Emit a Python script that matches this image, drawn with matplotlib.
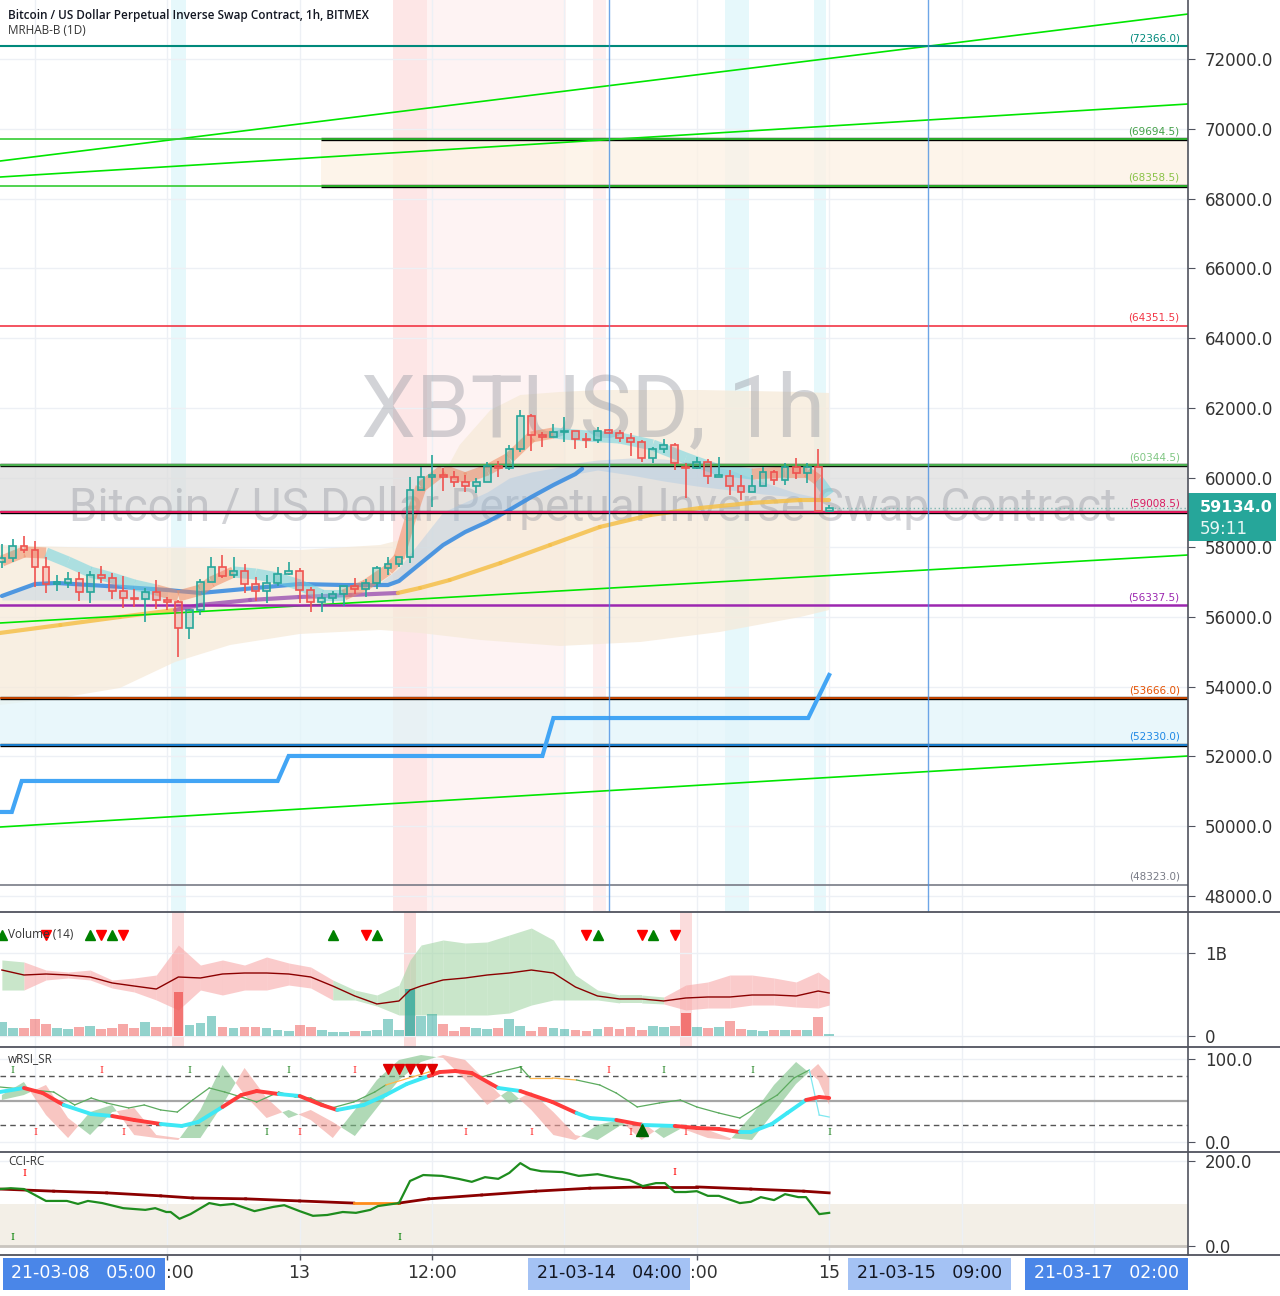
import matplotlib
matplotlib.use('Agg')
import matplotlib.pyplot as plt
from matplotlib.patches import Rectangle
from matplotlib.lines import Line2D

# hour index: 0 = 2021-03-12 00:00 (1h candles)
hours = list(range(-3, 73))
opens = [57577, 57692, 58036, 57921, 57434, 56946, 56975, 57090, 56717, 57204,
         57118, 56746, 56545, 56516, 56717, 56488, 56430, 55685, 56201, 57004,
         57434, 57204, 57319, 56946, 56746, 56975, 57233, 57319, 56774, 56430,
         56545, 56660, 56889, 56803, 56975, 57405, 57520, 57721, 59642, 60014,
         60072, 60014, 59871, 59756, 59871, 60330, 60273, 60817, 61764, 61219,
         61161, 61305, 61334, 61104, 61075, 61362, 61276, 61133, 61018, 60559,
         60817, 60932, 60301, 60273, 60445, 60014, 60043, 59756, 59584, 59756,
         60158, 59928, 60301, 60129, 60301, 59040]
highs = [58093, 58237, 58323, 58179, 57721, 57204, 57291, 57291, 57319, 57463,
         57262, 57176, 56803, 56832, 57061, 56574, 56488, 56230, 57090, 57721,
         57778, 57721, 57520, 57147, 57204, 57434, 57577, 57405, 56860, 56688,
         56746, 56889, 57118, 57090, 57463, 57721, 57721, 60014, 60301, 60645,
         60273, 60187, 60072, 59986, 60445, 60473, 60932, 61936, 61821, 61305,
         61534, 61735, 61334, 61276, 61448, 61391, 61362, 61276, 61075, 60875,
         61104, 60989, 60416, 60588, 60531, 60588, 60215, 60072, 60072, 60301,
         60215, 60416, 60559, 60416, 60817, 59212]
lows = [57405, 57577, 57835, 56860, 56688, 56746, 56832, 56459, 56402, 56975,
        56516, 56258, 56287, 55857, 56230, 56201, 54853, 55369, 56057, 57004,
        57118, 57118, 56688, 56459, 56402, 56889, 57204, 56402, 56144, 56144,
        56402, 56316, 56660, 56574, 56803, 57204, 57434, 57548, 59642, 59154,
        59613, 59728, 59584, 59556, 59871, 60014, 60215, 60731, 60760, 60875,
        61161, 61018, 60817, 60846, 60989, 61276, 61018, 60617, 60445, 60416,
        60703, 60215, 59412, 60244, 59814, 60014, 59498, 59355, 59584, 59756,
        59785, 59785, 59957, 59842, 59040, 59011]
closes = [57692, 58036, 57921, 57434, 56946, 57004, 57090, 56717, 57204, 57118,
          56746, 56545, 56516, 56717, 56488, 56430, 55685, 56201, 57004, 57434,
          57176, 57319, 56946, 56746, 56975, 57233, 57319, 56774, 56430, 56545,
          56660, 56889, 56803, 56975, 57405, 57520, 57721, 59642, 60014, 60072,
          60014, 59871, 59756, 59871, 60330, 60273, 60817, 61764, 61219, 61161,
          61305, 61334, 61104, 61075, 61334, 61276, 61133, 61018, 60559, 60817,
          60932, 60416, 60273, 60445, 60043, 60072, 59756, 59584, 59756, 60158,
          59928, 60301, 60129, 60301, 59040, 59134]
volumes = [0.169, 0.100, 0.100, 0.205, 0.145, 0.092, 0.080, 0.104, 0.120, 0.084,
           0.092, 0.145, 0.092, 0.169, 0.112, 0.112, 0.534, 0.133, 0.157, 0.241,
           0.108, 0.092, 0.112, 0.104, 0.092, 0.072, 0.060, 0.133, 0.112, 0.072,
           0.048, 0.048, 0.060, 0.064, 0.072, 0.201, 0.072, 0.562, 0.241, 0.269,
           0.145, 0.060, 0.104, 0.100, 0.080, 0.092, 0.205, 0.120, 0.060, 0.112,
           0.092, 0.080, 0.072, 0.060, 0.080, 0.104, 0.084, 0.112, 0.072, 0.124,
           0.112, 0.124, 0.273, 0.104, 0.092, 0.104, 0.185, 0.080, 0.072, 0.060,
           0.072, 0.072, 0.072, 0.072, 0.225, 0.024]
vol_hi_h = [13, 34, 59]

# horizontal levels
levels = [72366.0, 69694.5, 68358.5, 64351.5, 60344.5, 59008.5, 56337.5, 53666.0, 52330.0, 48323.0]
level_line_col = ['#00897b', '#33cc33', '#33cc33', '#f23645', '#4caf50', '#e91e63', '#9c27b0', '#e65100', '#2196f3', '#787b86']
level_txt_col = ['#00897b', '#43a047', '#8bc34a', '#f23645', '#81c784', '#d81b60', '#9c27b0', '#e65100', '#1e88e5', '#787b86']
level_lw = [1.5, 1.2, 1.2, 1.2, 1.6, 1.4, 1.8, 1.2, 1.2, 1.2]
# zones (start hour, low, high, fill)
zones = [(25.94, 68358.5, 69694.5, '#fdf1e3'),
         (-3.17, 59008.5, 60344.5, '#dedede'),
         (-3.17, 52330.0, 53666.0, '#e2f5fa')]
# trend lines (hour start/end, price start/end)
trend_h = [-3.17, 104.53]
trends = [(69075, 73290), (68616, 70710), (55828, 57778), (49978, 52014)]

# daily step line
step_h = [-3.2, -2.1, -1.2, 22, 23, 46, 47, 70.1, 72]
step_p = [50409, 50409, 51298, 51298, 52015, 52015, 53103, 53103, 54337]

# envelope band
env_up_h = [-3.2, 5.9, 15, 24, 31.3, 33.1, 35.8, 38.5, 41.3, 44, 47.6, 51.2, 60.3, 69.4, 72]
env_up_p = [58065, 57978, 57978, 57921, 58065, 58208, 59355, 60932, 61936, 62366, 62452, 62509, 62509, 62452, 62423]
env_lo_h = [-3.2, 2.3, 7.7, 12.7, 17.7, 24, 31.3, 34.9, 40.4, 47.6, 54.9, 62.1, 69.4, 72]
env_lo_p = [53477, 53678, 53965, 54710, 55198, 55513, 55628, 55542, 55341, 55169, 55284, 55571, 56001, 56201]

# slow average (yellow / purple)
slow_h = [-3.2, 2.3, 7.7, 12.7, 15, 19.5, 24, 28.6, 32.9, 34.9, 37.6, 42.2, 46.7, 51.2, 55.8, 60.3, 64.9, 69.4, 72]
slow_p = [55541, 55771, 56001, 56201, 56345, 56488, 56574, 56631, 56689, 56832, 57061, 57548, 58065, 58581, 58925, 59126, 59269, 59355, 59355]
# fast average (blue)
fast_h = [-3, 0, 2, 5, 8, 12, 15, 20, 24, 28, 32, 33, 35, 37, 39, 41, 43, 45, 47, 49, 49.6]
fast_p = [56602, 56946, 56975, 56917, 56860, 56774, 56688, 56832, 56946, 56917, 56917, 57032, 57548, 58064, 58437, 58725, 59068, 59441, 59785, 60100, 60250]
# cloud
cloud_h = [31, 33, 35, 37, 39, 41, 43, 45, 47, 49, 51, 54, 57, 60, 63, 66, 69, 72]
cloud_top = [56917, 57405, 58208, 59011, 59298, 59584, 59986, 60158, 60273, 60416, 60502, 60559, 60531, 60416, 60215, 59871, 59556, 59355]
cloud_bot = [56917, 57032, 57548, 58064, 58437, 58725, 59068, 59441, 59785, 60100, 60215, 60072, 59900, 59756, 59642, 59527, 59441, 59355]

# heikin ashi ribbon
rib_h = [-3, -1, 1, 3, 5, 7, 9, 11, 13, 15, 16, 18, 20, 22, 24, 26, 28, 30, 32, 33, 34, 35, 37, 39, 41, 43, 45,
         47, 50, 53, 56, 59, 62, 65, 68, 70, 71, 72]
rib_p = [57606, 57864, 57835, 57577, 57291, 57118, 56917, 56774, 56602, 56774, 57004, 57291, 57233, 57118, 56917,
         56631, 56631, 56917, 57348, 57692, 58781, 59728, 60215, 59986, 60215, 60559, 61161,
         61276, 61190, 61133, 60932, 60559, 60215, 60100, 60158, 60158, 59928, 59498]
rib_up = [1, 1, 0, 0, 0, 0, 0, 1, 1, 1, 1, 0, 0, 0, 0, 0, 1, 1, 1, 1, 1, 1, 1, 1, 1, 1, 1,
          0, 0, 0, 0, 0, 0, 1, 1, 1, 0]

# volume panel band
vb_h = [-3, -1, 1, 3, 5, 7, 9, 11, 13, 15, 17, 19, 21, 23, 25, 27, 29, 31, 33, 34, 35, 37, 39, 41, 43, 45,
        47, 49, 51, 53, 55, 57, 59, 61, 63, 65, 67, 69, 71, 72]
vb_mid = [0.795, 0.735, 0.747, 0.735, 0.711, 0.639, 0.602, 0.566, 0.711, 0.699, 0.747, 0.759, 0.759, 0.747, 0.711,
          0.602, 0.482, 0.386, 0.422, 0.554, 0.602, 0.675, 0.699, 0.735, 0.759, 0.795, 0.759, 0.590, 0.482,
          0.446, 0.446, 0.422, 0.458, 0.470, 0.470, 0.494, 0.494, 0.482, 0.542, 0.518]
vb_up = [0.916, 0.892, 0.795, 0.771, 0.795, 0.675, 0.699, 0.735, 1.096, 0.855, 0.916, 0.855, 0.952, 0.880, 0.831,
         0.675, 0.554, 0.494, 0.614, 0.916, 1.096, 1.157, 1.120, 1.133, 1.217, 1.301, 1.157, 0.735, 0.554,
         0.494, 0.494, 0.470, 0.614, 0.651, 0.735, 0.735, 0.699, 0.651, 0.771, 0.675]
vb_lo = [0.554, 0.554, 0.675, 0.699, 0.675, 0.578, 0.530, 0.434, 0.313, 0.554, 0.494, 0.554, 0.554, 0.614, 0.578,
         0.434, 0.434, 0.361, 0.253, 0.253, 0.253, 0.253, 0.253, 0.253, 0.277, 0.373, 0.434, 0.434, 0.434,
         0.398, 0.398, 0.386, 0.313, 0.337, 0.337, 0.373, 0.373, 0.349, 0.337, 0.373]
vb_green = [1, 0, 0, 0, 0, 0, 0, 0, 0, 0, 0, 0, 0, 0, 0, 1, 1, 1, 1, 1, 1, 1, 1, 1, 1, 1, 1, 1, 1, 1, 1,
            0, 0, 0, 0, 0, 0, 0, 0]
vol_up_marks = [-3, 5, 7, 27, 31, 51, 56]
vol_dn_marks = [1, 6, 8, 30, 50, 55, 58]

# wRSI
rsi_h = [-3.2, -1, 0.7, 2.6, 5.1, 7, 9, 11.4, 13.3, 14.8, 17, 18.7, 20.1, 22.1, 24, 26, 27.4, 29.8, 31.8, 33.7,
         35.7, 36.7, 38.1, 39.6, 42, 44, 46.9, 49.1, 50.3, 52.7, 55.1, 58, 60, 62, 63.9, 64.9, 66.8, 68.2, 69.9,
         71.1, 72]
rsi_v = [60.2, 65.1, 59.0, 44.6, 33.7, 31.3, 26.5, 21.7, 19.3, 24.1, 42.2, 56.6, 61.4, 57.8, 55.4, 44.6, 38.6,
         44.6, 56.6, 69.9, 79.5, 84.3, 85.5, 83.1, 65.1, 61.4, 48.2, 34.9, 28.9, 26.5, 20.5, 19.3, 16.9, 15.7,
         12.0, 12.0, 21.7, 34.9, 50.6, 54.2, 53.0]
rsi_red = [0, 1, 1, 0, 0, 1, 1, 0, 0, 0, 1, 1, 1, 0, 1, 1, 0, 0, 0, 0, 1, 1, 1, 1, 0, 1, 1, 0, 0, 1, 0, 1, 1,
           1, 0, 0, 0, 0, 1, 1]
rsi2_h = [-3.2, 1.7, 3.6, 5.1, 6.5, 8.5, 9.9, 11.4, 12.9, 14.3, 15.8, 17.2, 18.7, 20.1, 22.1, 23.6, 25, 26.9,
          28.9, 30.8, 31.8, 32.7, 34.2, 35.7, 38.1, 39.6, 40.5, 42, 44, 44.9, 46.9, 49.1, 51.2, 52.7, 54.6, 56.6,
          58.5, 60, 62, 63.9, 65.8, 67.3, 68.8, 70.2, 71.1, 72]
rsi2_v = [66.3, 60.2, 44.6, 53.0, 47.0, 41.0, 44.6, 38.6, 36.1, 50.6, 65.1, 60.2, 54.2, 48.2, 60.2, 54.2, 53.0,
          41.0, 48.2, 60.2, 68.7, 72.3, 78.3, 84.3, 86.7, 80.7, 78.3, 84.3, 90.4, 77.1, 77.1, 74.7, 68.7, 59.0,
          42.2, 47.0, 50.6, 42.2, 34.9, 28.9, 44.6, 56.6, 77.1, 86.7, 32.5, 30.1]
wedge_h = [-3, -1, 1, 3, 5, 7, 9, 11, 13, 15, 17, 19, 21, 23, 25, 27, 29, 31, 33, 35, 37, 39, 41, 43, 45, 47,
           49, 51, 53, 55, 57, 59, 61, 63, 65, 67, 69, 71, 72]
wedge_fast = [56.6, 72.3, 32.5, 4.8, 36.1, 44.6, 8.4, 4.8, 2.4, 38.6, 92.8, 56.6, 28.9, 38.6, 26.5, 4.8, 38.6,
              74.7, 98.8, 104.8, 101.2, 74.7, 44.6, 62.7, 38.6, 8.4, 2.4, 20.5, 26.5, 2.4, 20.5, 14.5, 4.8, 2.4,
              32.5, 68.7, 96.4, 74.7, 44.6]
wedge_slow = [50.6, 56.6, 68.7, 28.9, 8.4, 36.1, 41.0, 8.4, 4.8, 4.8, 44.6, 89.2, 53.0, 28.9, 38.6, 24.1, 7.2,
              41.0, 74.7, 96.4, 104.8, 98.8, 72.3, 45.8, 60.2, 36.1, 8.4, 2.4, 19.3, 24.1, 4.8, 19.3, 14.5, 4.8,
              2.4, 36.1, 69.9, 94.0, 77.1]
rsi_top_green = [-2, 14, 23, 44, 57, 65]
rsi_top_red = [6, 29, 52]
rsi_bot_green = [21, 72]
rsi_bot_red = [0, 8, 24, 39, 45, 54, 59]
rsi_sell = [32, 33, 34, 35, 36]
rsi_buy = [55]

# CCI
cci_h = [-3.2, -2.2, -1, 1, 2.9, 3.9, 4.8, 6.1, 8, 10, 10.9, 11.9, 12.3, 13.1, 14.1, 15.8, 16.8, 18, 19.9, 21.6,
         22.6, 24, 25.2, 26.5, 27.9, 29.1, 30.4, 31.1, 33, 34, 35.2, 36.9, 38.4, 39.6, 40.8, 42, 43, 44, 44.9,
         45.9, 47.8, 49.3, 51, 52.7, 53.9, 55.1, 56.3, 57.1, 58, 59, 60, 61, 62, 63.9, 64.9, 65.8, 67, 68, 69.2,
         69.9, 71.1, 72]
cci_v = [134, 136, 134, 106, 106, 99, 106, 101, 89, 85, 89, 80, 80, 64, 75, 101, 96, 99, 82, 92, 96, 82, 71, 73,
         80, 78, 85, 94, 101, 153, 167, 165, 158, 151, 162, 158, 172, 195, 181, 176, 174, 165, 169, 160, 155,
         141, 148, 148, 127, 127, 129, 118, 118, 101, 104, 115, 108, 122, 115, 115, 75, 78]
sig_h = [-3.2, 1.7, 6.5, 11.4, 14.3, 19.1, 24, 28.9, 33, 35.7, 40.5, 45.4, 50.3, 55.1, 60, 64.9, 69.7, 72]
sig_v = [134, 129, 125, 118, 113, 111, 106, 101, 101, 111, 120, 129, 136, 139, 139, 134, 129, 125]
cci_marks = [(-1, 170, '#ff0000'), (-2, 21, '#008000'), (33, 21, '#008000'), (58, 174, '#ff0000')]

# time axis
time_plain = [(11.9, ':00'), (23.95, '13'), (36.0, '12:00'), (59.4, ':00'), (72.0, '15')]
time_boxes = [(4.44, '21-03-08   05:00', '#4a86e8', 'white'),
              (52.06, '21-03-14   04:00', '#a4c2f4', '#131722'),
              (81.09, '21-03-15   09:00', '#a4c2f4', '#131722'),
              (97.14, '21-03-17   02:00', '#4a86e8', 'white')]

W, H = 1280, 1296
XL = (-3.17, 104.53)
GRID = '#edf0f5'
AXC = '#50535e'
TXT = '#333333'

fig = plt.figure(figsize=(12.8, 12.96), dpi=100)


def panel(y0, y1):
    a = fig.add_axes([0, 1 - y1 / H, 1188 / W, (y1 - y0) / H])
    a.set_xlim(*XL)
    for s in a.spines.values():
        s.set_visible(False)
    a.set_xticks([0, 12, 24, 36, 48, 60, 72, 84, 96])
    a.tick_params(axis='x', length=0, labelbottom=False)
    a.yaxis.tick_right()
    a.tick_params(axis='y', length=5, pad=7, labelsize=12, colors=AXC, labelcolor=TXT)
    a.grid(True, color=GRID, lw=1, zorder=0)
    a.set_axisbelow(True)
    return a


ax = panel(0, 912)
axv = panel(912, 1047)
axr = panel(1047, 1152)
axc = panel(1152, 1255)
axt = fig.add_axes([0, 0, 1188 / W, 41 / H])
axt.set_xlim(*XL)
axt.set_ylim(0, 1)
axt.axis('off')

# ---------- main price panel ----------
ax.set_ylim(47541, 73692)
ticks = list(range(48000, 72001, 2000))
ax.set_yticks(ticks)
ax.set_yticklabels([f'{t:.1f}' for t in ticks])

ax.axvspan(32.5, 35.5, color='#fde6e6', lw=0, zorder=0.5)
ax.axvspan(35.5, 48.1, color='#fef3f3', lw=0, zorder=0.5)
ax.axvspan(50.6, 51.8, color='#fdeeee', lw=0, zorder=0.5)
for a0, a1 in [(12.3, 13.7), (62.6, 64.7), (70.6, 71.7)]:
    ax.axvspan(a0, a1, color='#e6f8fb', lw=0, zorder=0.5)

ax.fill_between(env_up_h + env_lo_h[::-1], env_up_p + env_lo_p[::-1], color='#f6ead9', alpha=0.75, lw=0, zorder=1)

for x0, lo, hi, fc in zones:
    ax.add_patch(Rectangle((x0, lo), XL[1] - x0, hi - lo, fc=fc, ec='none', alpha=0.75, zorder=1.5))

ax.text(0.499, 0.548, 'XBTUSD, 1h', transform=ax.transAxes, ha='center', va='center',
        fontsize=63, family='Roboto', color='#9598a1', alpha=0.42, zorder=1.8)
ax.text(0.499, 0.443, 'Bitcoin / US Dollar Perpetual Inverse Swap Contract', transform=ax.transAxes,
        ha='center', va='center', fontsize=33, family='Roboto', color='#9598a1', alpha=0.42, zorder=1.8)

for x0, lo, hi, fc in zones:
    ax.hlines([lo, hi], x0, XL[1], color='black', lw=2.4, zorder=3)
for i, p in enumerate(levels):
    ax.axhline(p, color=level_line_col[i], lw=level_lw[i], zorder=3.2)
    ax.text(0.993, p + 90, f'({p:.1f})', transform=ax.get_yaxis_transform(), ha='right', va='bottom',
            fontsize=7.5, color=level_txt_col[i], zorder=7)

for p0, p1 in trends:
    ax.plot(trend_h, [p0, p1], color='#00e600', lw=1.2, zorder=3)

ax.plot(step_h, step_p, color='#42a5f5', lw=3, zorder=3.5, solid_joinstyle='miter')

ax.fill_between(cloud_h, cloud_bot, cloud_top, color='#9ec3e6', alpha=0.35, lw=0, zorder=2.2)
ax.fill_between(fast_h[:6], [56488] * 6, fast_p[:6], color='#9ec3e6', alpha=0.3, lw=0, zorder=2.2)

for i in range(len(slow_h) - 1):
    c = '#a05bb5' if 12.7 <= slow_h[i] < 32.9 else '#f5c04a'
    ax.plot(slow_h[i:i + 2], slow_p[i:i + 2], color=c, lw=3, alpha=0.85, solid_capstyle='round', zorder=2.6)
ax.plot(fast_h, fast_p, color='#3d8ee0', lw=3, alpha=0.9, solid_capstyle='round', zorder=2.7)

for i in range(len(rib_h) - 1):
    c = '#f08c64' if rib_up[i] else '#6fd3e0'
    ax.plot(rib_h[i:i + 2], rib_p[i:i + 2], color=c, lw=8, alpha=0.55, solid_capstyle='butt', zorder=2.8)

for h, o, hi, lo, c in zip(hours, opens, highs, lows, closes):
    col = '#26a69a' if c >= o else '#ef5350'
    top, bot = max(o, c), min(o, c)
    ax.vlines(h, top, hi, color=col, lw=1.2, zorder=6)
    ax.vlines(h, lo, bot, color=col, lw=1.2, zorder=6)
    ax.bar(h, max(top - bot, 25), bottom=bot, width=0.62, facecolor=col + '38', edgecolor=col, lw=1.2, zorder=6)

ax.hlines(closes[-1], 72.4, XL[1], color='#7fb7b2', lw=1, linestyles=(0, (1, 2)), zorder=5)
ax.axvline(52.0, color='#4a90e2', lw=1, alpha=0.8, zorder=4)
ax.axvline(81.0, color='#4a90e2', lw=1, alpha=0.8, zorder=4)

fig.text(8 / W, 1 - 15 / H, 'Bitcoin / US Dollar Perpetual Inverse Swap Contract, 1h, BITMEX', fontsize=8.5,
         family='Open Sans', weight='semibold', color='#131722', va='center')
fig.text(8 / W, 1 - 31 / H, 'MRHAB-B (1D)', fontsize=8.5, family='Open Sans', color='#333333', va='center')

# last price label
fig.add_artist(Rectangle((1188 / W, 1 - 541 / H), 88 / W, 48 / H, transform=fig.transFigure,
                         fc='#26a69a', ec='none'))
fig.text(1200 / W, 1 - 507 / H, f'{closes[-1]:.1f}', color='white', fontsize=11.5, weight='bold', va='center')
fig.text(1200 / W, 1 - 529 / H, '59:11', color='#e8f6f4', fontsize=12, va='center')

# ---------- volume panel ----------
axv.set_ylim(-0.1325, 1.494)
axv.set_yticks([0, 1])
axv.set_yticklabels(['0', '1B'])
for h in vol_hi_h:
    axv.axvspan(h - 0.55, h + 0.55, color='#fbdcdc', lw=0, zorder=0.5)
for i in range(len(vb_h) - 1):
    c = '#a5d6a7' if vb_green[i] else '#f8a9a9'
    axv.fill_between(vb_h[i:i + 2], vb_lo[i:i + 2], vb_up[i:i + 2], color=c, alpha=0.6, lw=0, zorder=1)
axv.plot(vb_h, vb_mid, color='#8b0000', lw=1, zorder=3)
for h, v, o, c in zip(hours, volumes, opens, closes):
    col = '#26a69a' if c >= o else '#ef5350'
    a = 0.75 if h in vol_hi_h else 0.5
    axv.bar(h, v, width=0.88, color=col, alpha=a, lw=0, zorder=2)
axv.plot(vol_up_marks, [1.217] * len(vol_up_marks), '^', color='#008000', ms=7, zorder=4)
axv.plot(vol_dn_marks, [1.217] * len(vol_dn_marks), 'v', color='#ff0000', ms=7, zorder=4)
axv.text(8 / 1188, 1.217, 'Volume (14)', transform=axv.get_yaxis_transform(), fontsize=8.5,
         color=TXT, va='center', family='Open Sans', zorder=5)

# ---------- wRSI panel ----------
axr.set_ylim(-12.05, 114.46)
axr.set_yticks([0, 100])
axr.set_yticklabels(['0.0', '100.0'])
axr.axhline(80, color='#555555', lw=1, ls=(0, (4, 3)), zorder=1)
axr.axhline(20, color='#555555', lw=1, ls=(0, (4, 3)), zorder=1)
axr.axhline(50, color='#a6a6a6', lw=1.6, zorder=1)
axr.fill_between(wedge_h, wedge_fast, wedge_slow, where=[f >= s for f, s in zip(wedge_fast, wedge_slow)],
                 interpolate=True, color='#7cc086', alpha=0.6, lw=0, zorder=2)
axr.fill_between(wedge_h, wedge_fast, wedge_slow, where=[f < s for f, s in zip(wedge_fast, wedge_slow)],
                 interpolate=True, color='#f4a09a', alpha=0.6, lw=0, zorder=2)
for i in range(len(rsi2_h) - 1):
    h0 = rsi2_h[i]
    if h0 >= 70.2:
        c = '#7ee8f0'
    elif 31.8 <= h0 < 40.5 or 44.9 <= h0 < 49.1:
        c = '#ffb74d'
    else:
        c = '#5cab5f'
    axr.plot(rsi2_h[i:i + 2], rsi2_v[i:i + 2], color=c, lw=0.9, zorder=3)
for i in range(len(rsi_h) - 1):
    c = '#ff3b3b' if rsi_red[i] else '#3ee8f5'
    axr.plot(rsi_h[i:i + 2], rsi_v[i:i + 2], color=c, lw=2.8, solid_capstyle='round', zorder=4)
for h in rsi_top_green:
    axr.text(h, 86, 'I', color='#2e8b2e', fontsize=7, family='DejaVu Serif', ha='center', va='center', zorder=5)
for h in rsi_top_red:
    axr.text(h, 86, 'I', color='#ff3030', fontsize=7, family='DejaVu Serif', ha='center', va='center', zorder=5)
for h in rsi_bot_green:
    axr.text(h, 11, 'I', color='#2e8b2e', fontsize=7, family='DejaVu Serif', ha='center', va='center', zorder=5)
for h in rsi_bot_red:
    axr.text(h, 11, 'I', color='#ff3030', fontsize=7, family='DejaVu Serif', ha='center', va='center', zorder=5)
axr.plot(rsi_sell, [88] * len(rsi_sell), 'v', color='#e00000', ms=7, zorder=5)
axr.plot(rsi_buy, [14] * len(rsi_buy), '^', color='#006400', ms=8, zorder=5)
axr.text(8 / 1188, 101, 'wRSI_SR', transform=axr.get_yaxis_transform(), fontsize=8.5, color=TXT,
         va='center', family='Open Sans', zorder=6)

# ---------- CCI panel ----------
axc.set_ylim(-21.2, 221.2)
axc.set_yticks([0, 200])
axc.set_yticklabels(['0.0', '200.0'])
axc.axhspan(0, 100, color='#f3efe7', lw=0, zorder=0.5)
axc.axhline(0, color='#c9c5bf', lw=2, zorder=1)
for i in range(len(sig_h) - 1):
    c = '#ff8c1a' if 28.9 <= sig_h[i] < 33 else '#8b0000'
    axc.plot(sig_h[i:i + 2], sig_v[i:i + 2], color=c, lw=2, zorder=2)
axc.plot(cci_h, cci_v, color='#1e8c1e', lw=1.6, zorder=3)
for h, v, c in cci_marks:
    axc.text(h, v, 'I', color=c, fontsize=7, family='DejaVu Serif', ha='center', va='center', zorder=5)
axc.text(8 / 1188, 200, 'CCI-RC', transform=axc.get_yaxis_transform(), fontsize=8.5, color=TXT,
         va='center', family='Open Sans', zorder=6)

# ---------- time axis ----------
for h, s in time_plain:
    ha = 'left' if s == ':00' else 'center'
    axt.text(h, 0.55, s, ha=ha, va='center', fontsize=12.5, color=TXT)
axt.vlines([12, 24, 36, 60, 72], 0.88, 1.0, color=AXC, lw=1)
for h, s, fc, tc in time_boxes:
    axt.add_patch(Rectangle((h - 7.35, 0.15), 14.7, 0.78, fc=fc, ec='none', zorder=3))
    axt.text(h, 0.55, s, ha='center', va='center', fontsize=12.5, color=tc, zorder=4)

# separators
for y in [912, 1047, 1152, 1255]:
    fig.add_artist(Line2D([0, 1], [1 - y / H] * 2, color=AXC, lw=1.3))
fig.add_artist(Line2D([1188 / W] * 2, [1 - 1255 / H, 1], color=AXC, lw=1.2))

fig.savefig('out.png', dpi=100)
